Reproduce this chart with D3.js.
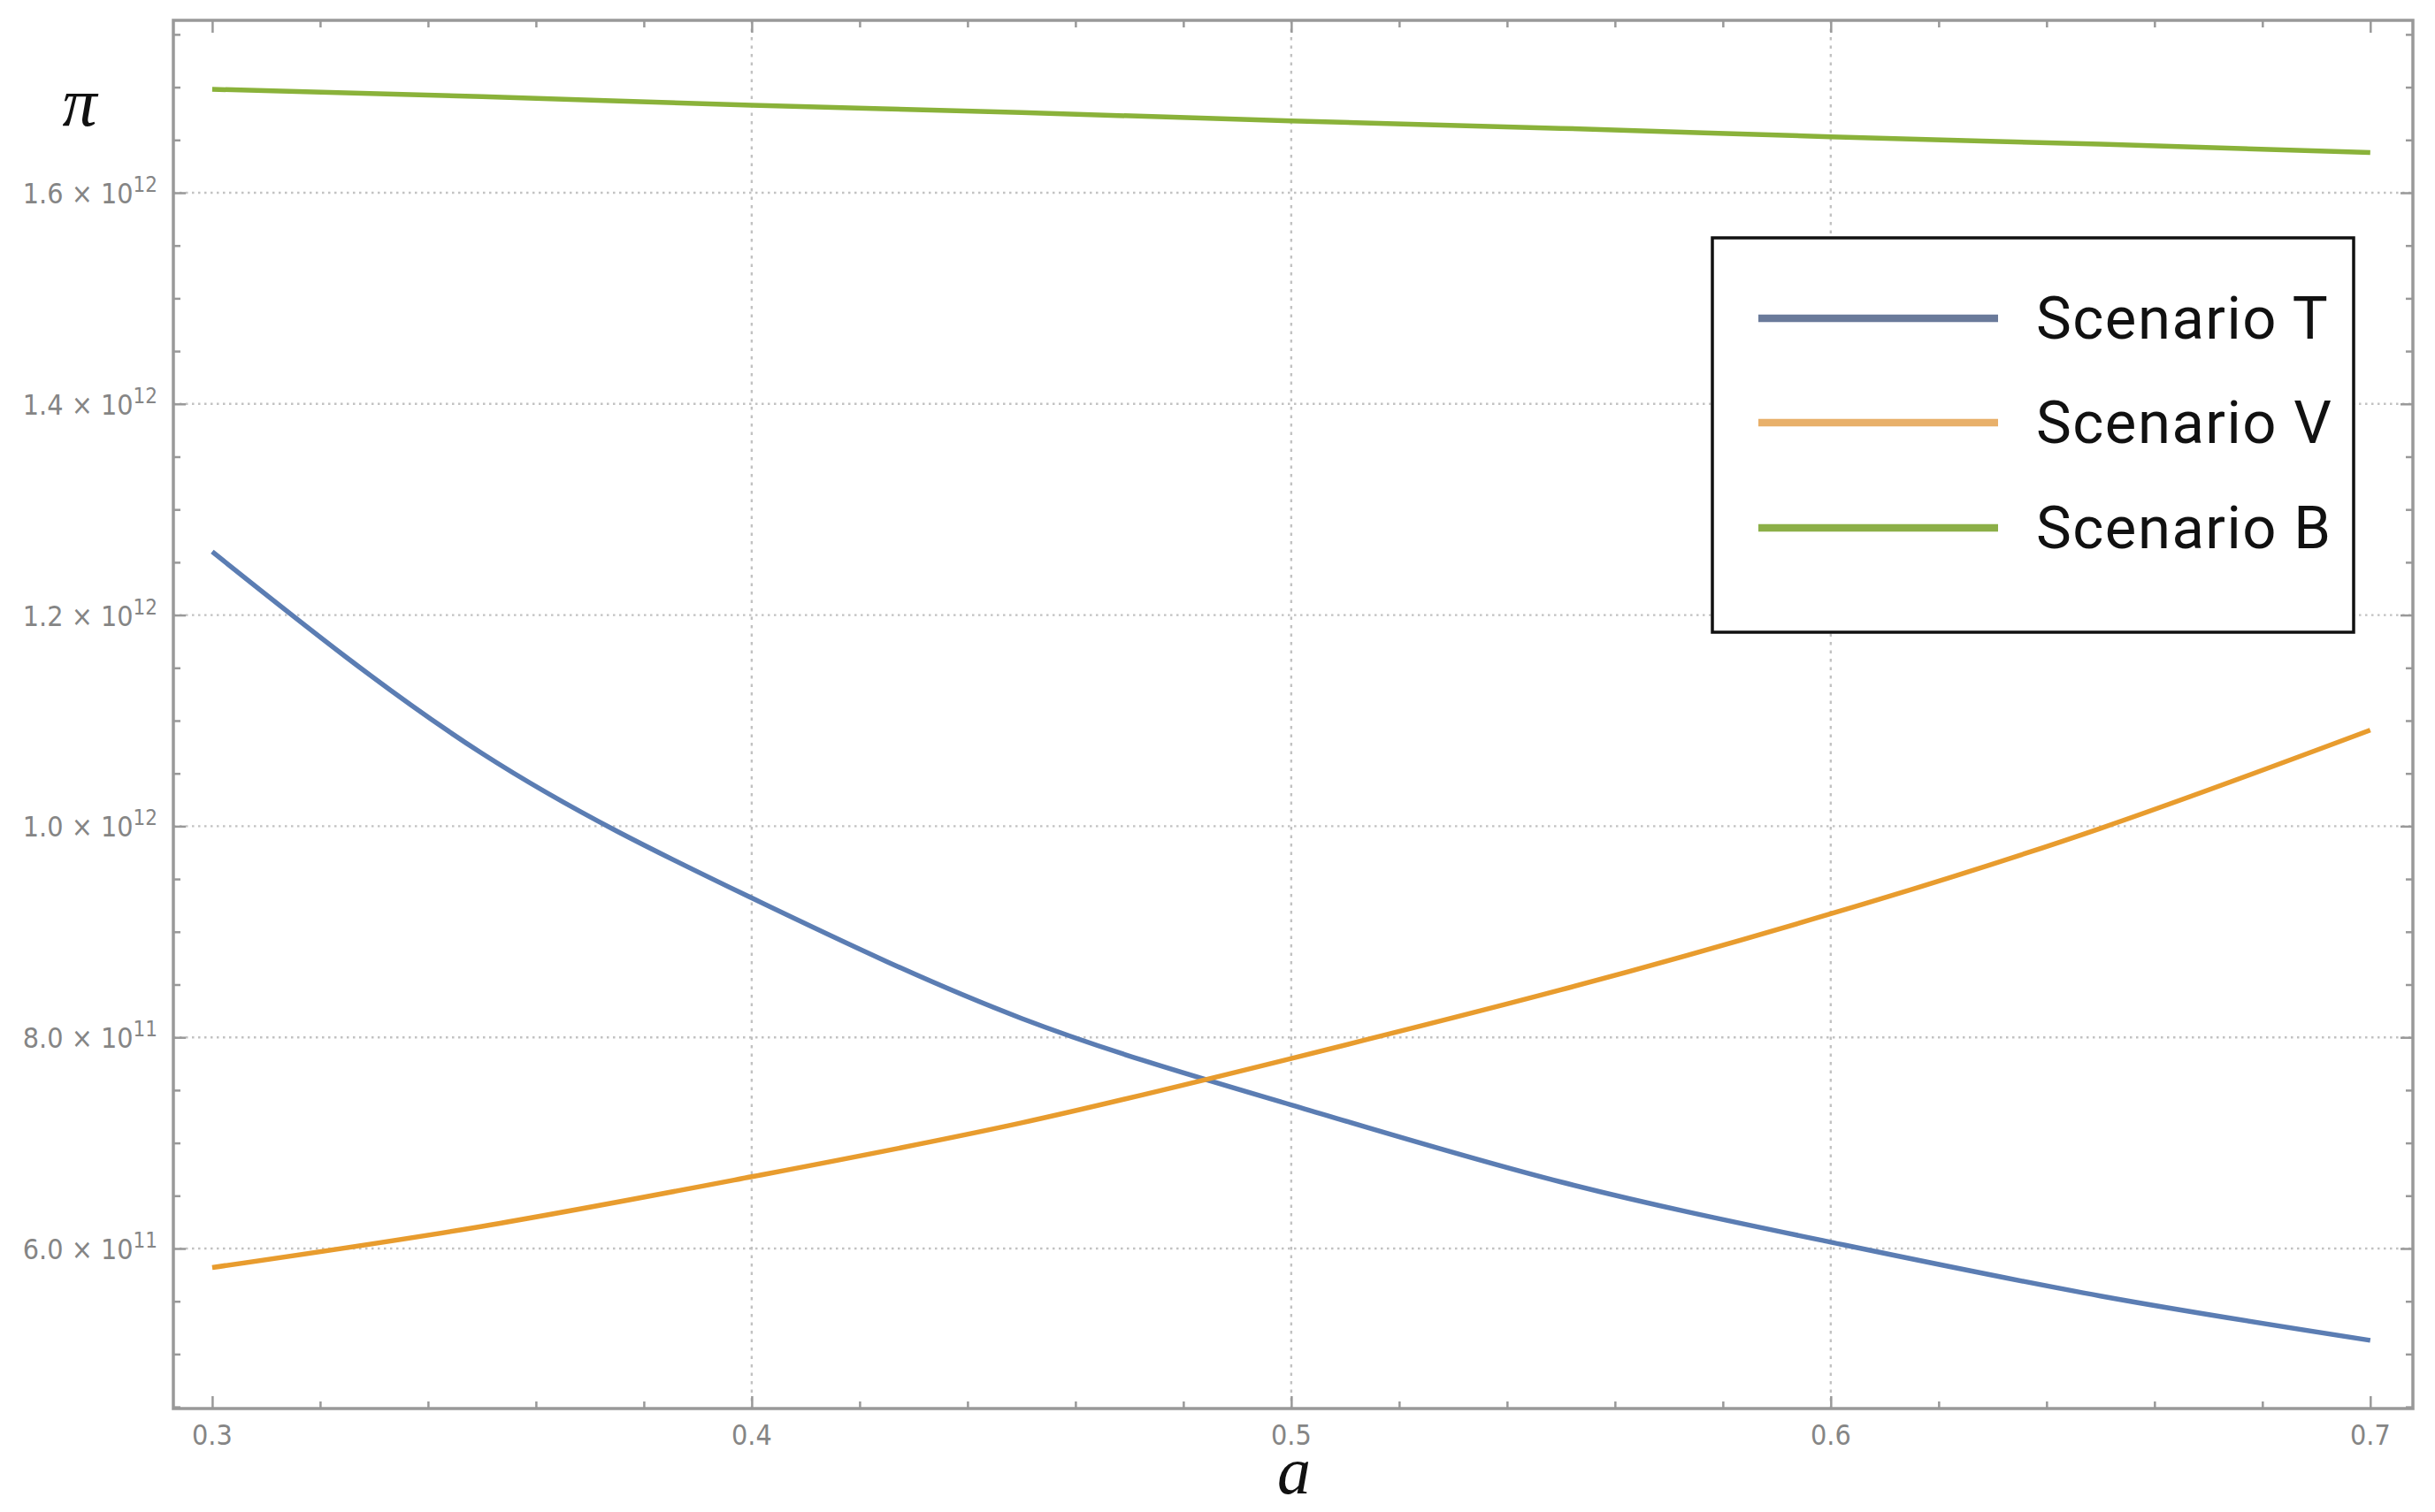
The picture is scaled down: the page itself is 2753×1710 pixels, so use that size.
<!DOCTYPE html>
<html>
<head>
<meta charset="utf-8">
<script src="https://cdn.jsdelivr.net/npm/d3@7"></script>
<style>
  html, body { margin: 0; padding: 0; background: #ffffff; }
  svg { display: block; }
</style>
</head>
<body>
<svg id="chart" width="2753" height="1710"></svg>
<script>
// ---------------- data ----------------
const aValues   = [0.30, 0.35, 0.40, 0.45, 0.50, 0.55, 0.60, 0.65, 0.70];
const scenarioT = [1.260e12, 1.069e12, 0.932e12, 0.818e12, 0.736e12, 0.663e12, 0.606e12, 0.555e12, 0.513e12];
const scenarioV = [0.582e12, 0.621e12, 0.668e12, 0.719e12, 0.780e12, 0.845e12, 0.917e12, 0.998e12, 1.091e12];
const scenarioB = [1.698e12, 1.691e12, 1.683e12, 1.676e12, 1.668e12, 1.661e12, 1.653e12, 1.646e12, 1.638e12];
const seriesNames = ["Scenario T", "Scenario V", "Scenario B"];
const xTickValues = [0.3, 0.4, 0.5, 0.6, 0.7];
const xTickLabels = ["0.3", "0.4", "0.5", "0.6", "0.7"];
const xGridValues = [0.4, 0.5, 0.6];
const yTickValues = [0.6e12, 0.8e12, 1.0e12, 1.2e12, 1.4e12, 1.6e12];
const yTickMantissa = ["6.0", "8.0", "1.0", "1.2", "1.4", "1.6"];
const yTickExponent = ["11", "11", "12", "12", "12", "12"];
const xAxisLabel = "a";
const yAxisLabel = "π";

// ---------------- layout ----------------
const frame = { left: 196, right: 2728, top: 23, bottom: 1593 };
const lineColors   = ["#5b7db3", "#e89c2e", "#8ab23a"];
const legendColors = ["#6a7a9a", "#e8b06a", "#8caf48"];
const frameColor = "#999999";
const gridColor = "#c2c2c2";

const svg = d3.select("#chart");

const x = d3.scaleLinear().domain([0.2928, 0.7079]).range([frame.left, frame.right]);
const y = d3.scaleLinear().domain([0.4484e12, 1.7633e12]).range([frame.bottom, frame.top]);

// grid lines
svg.append("g").selectAll("line").data(yTickValues).join("line")
  .attr("x1", frame.left).attr("x2", frame.right)
  .attr("y1", d => y(d)).attr("y2", d => y(d))
  .attr("stroke", gridColor).attr("stroke-width", 2.4)
  .attr("stroke-dasharray", "2.5,4.5");
svg.append("g").selectAll("line").data(xGridValues).join("line")
  .attr("x1", d => x(d)).attr("x2", d => x(d))
  .attr("y1", frame.top).attr("y2", frame.bottom)
  .attr("stroke", gridColor).attr("stroke-width", 2.4)
  .attr("stroke-dasharray", "3.5,6");

// ticks via d3 axes (inward)
const xMinor = d3.range(0.30, 0.7001, 0.02).map(v => +v.toFixed(2)).filter(v => !xTickValues.includes(v));
const yMinor = d3.range(0.45e12, 1.76e12, 0.05e12).filter(v => !yTickValues.some(t => Math.abs(t - v) < 1e9));

function styleAxis(g) {
  g.select(".domain").remove();
  g.selectAll(".tick line").attr("stroke", frameColor).attr("stroke-width", 2.5);
  g.selectAll(".tick text").remove();
}
function addAxis(axisFn, scale, tx, ty, values, size) {
  svg.append("g").attr("transform", `translate(${tx},${ty})`)
    .call(axisFn(scale).tickValues(values).tickSizeInner(-size).tickSizeOuter(0).tickFormat(""))
    .call(styleAxis);
}
addAxis(d3.axisBottom, x, 0, frame.bottom, xTickValues, 14);
addAxis(d3.axisBottom, x, 0, frame.bottom, xMinor, 8);
addAxis(d3.axisTop, x, 0, frame.top, xTickValues, 14);
addAxis(d3.axisTop, x, 0, frame.top, xMinor, 8);
addAxis(d3.axisLeft, y, frame.left, 0, yTickValues, 14);
addAxis(d3.axisLeft, y, frame.left, 0, yMinor, 8);
addAxis(d3.axisRight, y, frame.right, 0, yTickValues, 14);
addAxis(d3.axisRight, y, frame.right, 0, yMinor, 8);

// frame
svg.append("rect")
  .attr("x", frame.left).attr("y", frame.top)
  .attr("width", frame.right - frame.left).attr("height", frame.bottom - frame.top)
  .attr("fill", "none").attr("stroke", frameColor).attr("stroke-width", 3.5);

// tick labels
const tickFont = "'Liberation Sans Narrow', 'DejaVu Sans Condensed', 'Liberation Sans', Arial, sans-serif";
svg.append("g").selectAll("text").data(xTickValues).join("text")
  .attr("x", d => x(d)).attr("y", frame.bottom + 41)
  .attr("text-anchor", "middle")
  .attr("font-family", tickFont).attr("font-size", 32).attr("fill", "#858585")
  .text((d, i) => xTickLabels[i]);

const yl = svg.append("g").selectAll("text").data(yTickValues).join("text")
  .attr("x", 178).attr("y", d => y(d) + 12)
  .attr("text-anchor", "end")
  .attr("font-family", tickFont).attr("font-size", 32).attr("fill", "#858585");
yl.append("tspan").text((d, i) => yTickMantissa[i] + " × 10");
yl.append("tspan").attr("dy", -13).attr("font-size", 24).text((d, i) => yTickExponent[i]);

// axis labels
svg.append("text").attr("x", 90).attr("y", 142).attr("text-anchor", "middle")
  .attr("font-family", "'Liberation Serif', 'DejaVu Serif', serif").attr("font-style", "italic")
  .attr("font-size", 78).attr("fill", "#111").text(yAxisLabel);
svg.append("text").attr("x", 1463).attr("y", 1689).attr("text-anchor", "middle")
  .attr("font-family", "'Liberation Serif', 'DejaVu Serif', serif").attr("font-style", "italic")
  .attr("font-size", 76).attr("fill", "#111").text(xAxisLabel);

// curves
const allSeries = [scenarioT, scenarioV, scenarioB];
const line = d3.line().x(d => x(d[0])).y(d => y(d[1])).curve(d3.curveNatural);
svg.append("g").selectAll("path").data(allSeries).join("path")
  .attr("d", s => line(aValues.map((a, i) => [a, s[i]])))
  .attr("fill", "none")
  .attr("stroke", (d, i) => lineColors[i])
  .attr("stroke-width", 5.5)
  .attr("stroke-linejoin", "round");

// legend
const legend = { left: 1936, top: 269, right: 2661, bottom: 715 };
svg.append("rect")
  .attr("x", legend.left).attr("y", legend.top)
  .attr("width", legend.right - legend.left).attr("height", legend.bottom - legend.top)
  .attr("fill", "#ffffff").attr("stroke", "#111").attr("stroke-width", 3.5);
const legendRows = [360, 478, 597];
const lg = svg.append("g").selectAll("g").data(seriesNames).join("g");
lg.append("line")
  .attr("x1", 1988).attr("x2", 2259)
  .attr("y1", (d, i) => legendRows[i]).attr("y2", (d, i) => legendRows[i])
  .attr("stroke", (d, i) => legendColors[i]).attr("stroke-width", 8.5);
lg.append("text")
  .attr("x", 2302).attr("y", (d, i) => legendRows[i] + 23)
  .attr("font-family", "Roboto, 'Noto Sans', sans-serif").attr("font-size", 67)
  .attr("letter-spacing", 1.5)
  .attr("fill", "#111").text(d => d);
</script>
</body>
</html>
